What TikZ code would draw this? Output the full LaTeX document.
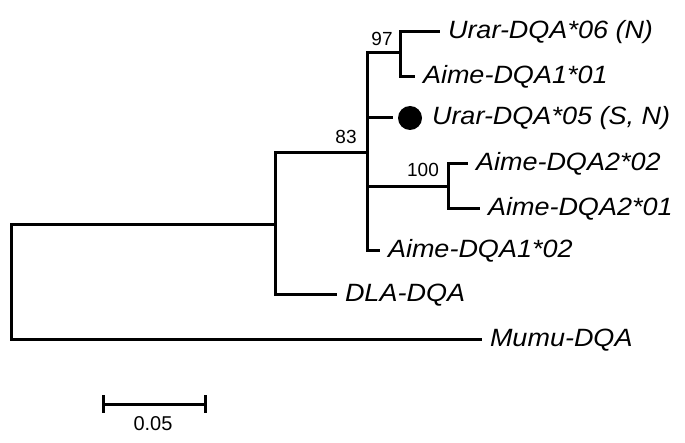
\documentclass[tikz,border=0pt]{standalone}
\usepackage{fontspec}
\setmainfont{Liberation Sans}
\newfontfamily\taxfont[FakeStretch=1.08]{Liberation Sans}
\usepackage{tikz}

\begin{document}
\begin{tikzpicture}[x=1pt,y=-1pt,
    branch/.style={line width=3pt},
    leaf/.style={anchor=west,inner sep=0pt,outer xsep=8pt,font=\taxfont\itshape\fontsize{25}{29}\selectfont},
    boot/.style={inner sep=0pt,font=\fontsize{19}{21}\selectfont}]
    \useasboundingbox (0,0) rectangle (685,443);
    % internal nodes
    \coordinate (root) at (11,283);
    \coordinate (nA) at (275,225);
    \coordinate (nB) at (367,153);
    \coordinate (n97) at (400,53);
    \coordinate (n100) at (448,187);

    % leaves
    \node[leaf] (u06) at (440,32) {Urar-DQA*06 (N)};
    \node[leaf] (a101) at (415,77) {Aime-DQA1*01};
    \node[circle,fill,minimum size=24pt,inner sep=0pt,outer sep=5pt] (dot) at (410,118) {};
    \node[leaf] (u05) at (424,118) {Urar-DQA*05 (S, N)};
    \node[leaf] (a202) at (468,164) {Aime-DQA2*02};
    \node[leaf] (a201) at (480,209) {Aime-DQA2*01};
    \node[leaf] (a102) at (380,251) {Aime-DQA1*02};
    \node[leaf] (dla) at (337,295) {DLA-DQA};
    \node[leaf] (mumu) at (482,340) {Mumu-DQA};

    \draw[branch] (root) |- (nA);
    \draw[branch] (root) |- (mumu);
    \draw[branch] (nA) |- (nB);
    \draw[branch] (nA) |- (dla);
    \draw[branch] (nB) |- (n97);
    \draw[branch] (nB) |- (dot);
    \draw[branch] (nB) |- (n100);
    \draw[branch] (nB) |- (a102);
    \draw[branch] (n97) |- (u06);
    \draw[branch] (n97) |- (a101);
    \draw[branch] (n100) |- (a202);
    \draw[branch] (n100) |- (a201);

    % bootstrap values
    \node[boot] (b97) at (382,39) {97};
    \node[boot] (b83) at (346,137) {83};
    \node[boot] (b100) at (423,170) {100};

    % scale bar
    \coordinate (sbl) at (103,404);
    \coordinate (sbr) at (205,404);
    \draw[branch] (sbl) -- (sbr);
    \draw[branch] ([yshift=9pt]sbl) -- ([yshift=-9pt]sbl);
    \draw[branch] ([yshift=9pt]sbr) -- ([yshift=-9pt]sbr);
    \node[font=\fontsize{20}{22}\selectfont] (sblab) at (153,424) {0.05};
\end{tikzpicture}
\end{document}
